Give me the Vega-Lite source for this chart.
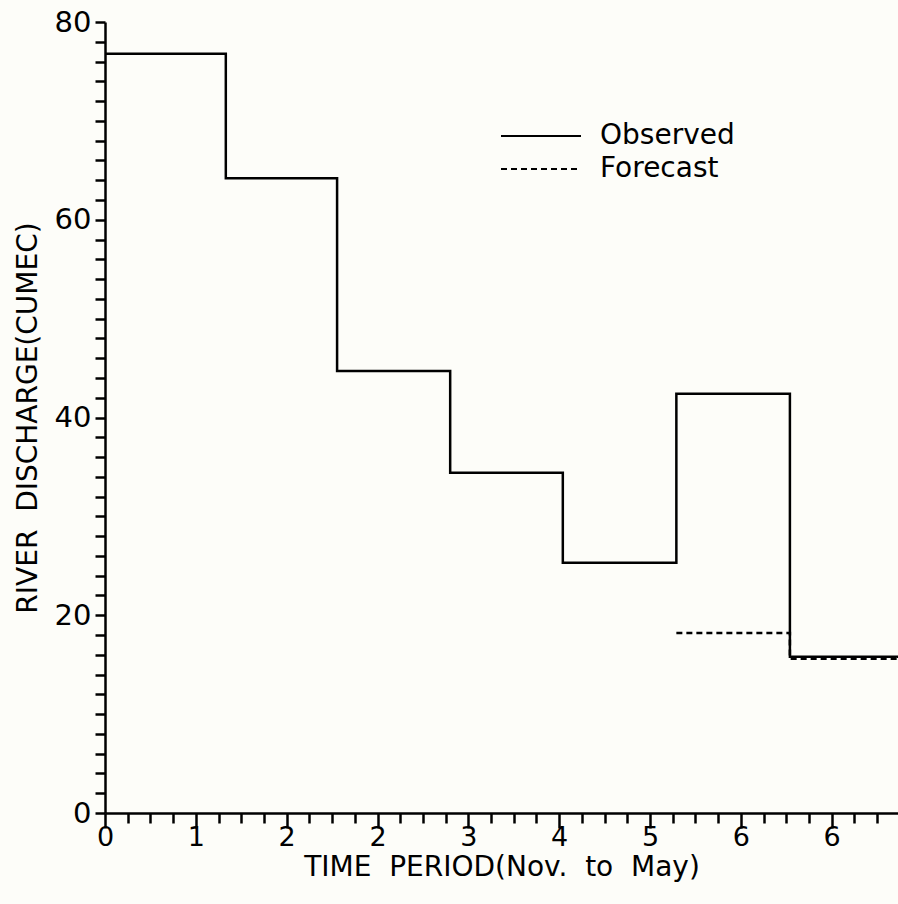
{
  "$schema": "https://vega.github.io/schema/vega-lite/v6.json",
  "width": 793,
  "height": 791,
  "autosize": {"type": "none"},
  "padding": {"left": 105, "top": 22, "right": 0, "bottom": 91},
  "background": "#fdfdf9",
  "config": {"view": {"stroke": null}, "font": "DejaVu Sans"},
  "data": {
    "values": [
      {"series": "Observed", "t": 0, "q": 76.8},
      {"series": "Observed", "t": 1.33, "q": 64.2},
      {"series": "Observed", "t": 2.555, "q": 44.7},
      {"series": "Observed", "t": 3.8, "q": 34.4},
      {"series": "Observed", "t": 5.04, "q": 25.3},
      {"series": "Observed", "t": 6.29, "q": 42.4},
      {"series": "Observed", "t": 7.54, "q": 15.8},
      {"series": "Observed", "t": 8.73, "q": 15.8},
      {"series": "Forecast", "t": 6.29, "q": 18.2},
      {"series": "Forecast", "t": 7.54, "q": 15.6},
      {"series": "Forecast", "t": 8.73, "q": 15.6}
    ]
  },
  "mark": {"type": "line", "interpolate": "step-after", "color": "black", "strokeWidth": 2.5, "clip": true},
  "encoding": {
    "x": {
      "field": "t",
      "type": "quantitative",
      "scale": {"domain": [0, 8.73], "nice": false, "zero": false},
      "axis": {
        "title": "TIME \u00a0PERIOD(Nov. \u00a0to \u00a0May)",
        "titleFontSize": 28,
        "titleFontWeight": "normal",
        "titleColor": "black",
        "titlePadding": 3,
        "values": [0,0.25,0.5,0.75,1,1.25,1.5,1.75,2,2.25,2.5,2.75,3,3.25,3.5,3.75,4,4.25,4.5,4.75,5,5.25,5.5,5.75,6,6.25,6.5,6.75,7,7.25,7.5,7.75,8,8.25,8.5],
        "labelExpr": "datum.value % 1 === 0 ? ['0','1','2','2','3','4','5','6','6'][datum.value] : ''",
        "labelFontSize": 27,
        "labelColor": "black",
        "labelPadding": -4,
        "labelOverlap": false,
        "labelFlush": false,
        "tickSize": {"condition": {"test": "datum.value % 1 === 0", "value": 15}, "value": 10},
        "tickWidth": 2.5,
        "tickColor": "black",
        "domainColor": "black",
        "domainWidth": 2.5,
        "grid": false
      }
    },
    "y": {
      "field": "q",
      "type": "quantitative",
      "scale": {"domain": [0, 80], "nice": false},
      "axis": {
        "title": "RIVER \u00a0DISCHARGE(CUMEC)",
        "titleFontSize": 28,
        "titleFontWeight": "normal",
        "titleColor": "black",
        "titlePadding": 12,
        "values": [0,2,4,6,8,10,12,14,16,18,20,22,24,26,28,30,32,34,36,38,40,42,44,46,48,50,52,54,56,58,60,62,64,66,68,70,72,74,76,78,80],
        "labelExpr": "datum.value % 20 === 0 ? datum.label : ''",
        "labelFontSize": 29,
        "labelColor": "black",
        "labelPadding": 4,
        "labelOverlap": false,
        "labelFlush": false,
        "tickSize": 10,
        "tickWidth": 2.5,
        "tickColor": "black",
        "domainColor": "black",
        "domainWidth": 2.5,
        "grid": false
      }
    },
    "strokeDash": {
      "field": "series",
      "type": "nominal",
      "scale": {"domain": ["Observed", "Forecast"], "range": [[1, 0], [6, 4]]},
      "legend": {
        "orient": "none",
        "legendX": 422,
        "legendY": 100,
        "padding": 0,
        "title": null,
        "symbolType": "M-4,0H4",
        "symbolSize": 400,
        "symbolStrokeWidth": 2,
        "symbolStrokeColor": "black",
        "labelFontSize": 28,
        "labelColor": "black",
        "labelOffset": 45,
        "rowPadding": 5
      }
    }
  }
}
